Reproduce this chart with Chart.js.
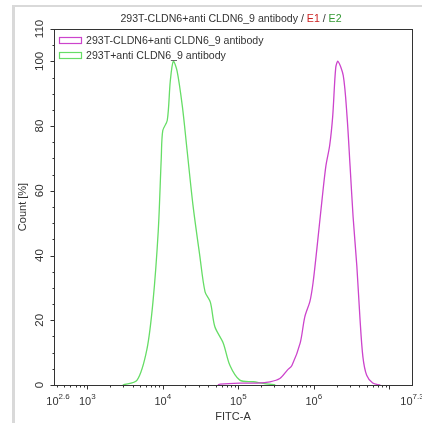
<!DOCTYPE html>
<html>
<head>
<meta charset="utf-8">
<script src="https://cdn.jsdelivr.net/npm/chart.js@4"></script>
<style>
  html, body { margin: 0; padding: 0; background: #fff; }
  #wrap { position: relative; width: 422px; height: 423px; }
</style>
</head>
<body>
<div id="wrap"><canvas id="histo"></canvas></div>
<script>
// FITC-A values are stored as log10 exponents
const seriesNames = ['293T-CLDN6+anti CLDN6_9 antibody', '293T+anti CLDN6_9 antibody'];
const seriesColors = ['#cc44cc', '#66dd66'];

const fitcLogMagenta = [4.73, 4.76, 5.02, 5.25, 5.42, 5.55, 5.65, 5.71, 5.82, 5.88, 5.95, 5.99, 6.04, 6.11, 6.16, 6.21, 6.25, 6.29, 6.32, 6.39, 6.44, 6.48, 6.52, 6.57, 6.61, 6.65, 6.70, 6.78, 6.88];
const countMagenta = [0, 0.3, 0.6, 0.6, 1, 2, 4.6, 6, 13, 21, 26, 31.6, 42, 57.5, 67.7, 74, 83, 98, 100, 95.6, 83, 67.7, 52, 36.6, 21, 8.7, 3, 0.6, 0];

const fitcLogGreen = [3.47, 3.66, 3.79, 3.87, 3.94, 3.98, 4.00, 4.06, 4.10, 4.14, 4.19, 4.26, 4.32, 4.40, 4.49, 4.56, 4.63, 4.69, 4.80, 4.89, 5.02, 5.20, 5.33, 5.49];
const countGreen = [0, 1.5, 11, 25.6, 47.5, 70, 78.6, 81.8, 94, 100, 97, 86, 73, 55.6, 40, 28.8, 25.6, 18, 13, 6, 1.5, 1, 0.5, 0];

const xTickExponents = [2.6, 3, 4, 5, 6, 7.3];
const yTickLabels = [0, 20, 40, 60, 80, 100, 110];

const xMinExp = 2.56, xMaxExp = 7.3;
const textColor = '#333';
const fontFamily = '"Liberation Sans", Arial, sans-serif';

function toPoints(exps, counts) {
    return exps.map((e, i) => ({ x: Math.pow(10, e), y: counts[i] }));
}

const decorPlugin = {
    id: 'decor',
    afterDraw: function(chart) {
        const ctx = chart.ctx;
        const a = chart.chartArea;
        const xs = chart.scales.x, ys = chart.scales.y;
        ctx.save();

        // window edges
        ctx.fillStyle = '#d9d9d9';
        ctx.fillRect(12, 5, 410, 2);
        ctx.fillRect(12, 5, 3, 418);

        // frame
        ctx.strokeStyle = '#333';
        ctx.lineWidth = 1;
        ctx.strokeRect(Math.round(a.left) + 0.5, Math.round(a.top) + 0.5, Math.round(a.right - a.left), Math.round(a.bottom - a.top));

        // title with coloured gate names
        ctx.font = '10.6px ' + fontFamily;
        ctx.textBaseline = 'middle';
        ctx.textAlign = 'left';
        const parts = [['293T-CLDN6+anti CLDN6_9 antibody / ', textColor], ['E1', '#cc2222'], [' / ', textColor], ['E2', '#339933']];
        let total = parts.reduce((s, p) => s + ctx.measureText(p[0]).width, 0);
        let tx = 231 - total / 2;
        parts.forEach(p => {
            ctx.fillStyle = p[1];
            ctx.fillText(p[0], tx, 19);
            tx += ctx.measureText(p[0]).width;
        });

        // legend inside plot
        seriesNames.forEach((name, i) => {
            const ly = 41 + i * 15;
            ctx.strokeStyle = seriesColors[i];
            ctx.lineWidth = 1.2;
            ctx.strokeRect(59.5, ly - 3.5, 22, 6);
            ctx.fillStyle = textColor;
            ctx.fillText(name, 86, ly);
        });

        // x ticks
        ctx.strokeStyle = '#333';
        ctx.lineWidth = 1;
        const yb = Math.round(a.bottom) + 0.5;
        for (let d = 2; d <= 7; d++) {
            for (let m = 1; m <= 9; m++) {
                const v = m * Math.pow(10, d);
                if (v < Math.pow(10, xMinExp) || v > Math.pow(10, xMaxExp)) continue;
                const px = Math.round(xs.getPixelForValue(v)) + 0.5;
                ctx.beginPath();
                ctx.moveTo(px, yb);
                ctx.lineTo(px, yb + (m === 1 ? 4 : 2));
                ctx.stroke();
            }
        }
        xTickExponents.forEach(e => {
            const px = e === xTickExponents[0] ? a.left + 4 : xs.getPixelForValue(Math.pow(10, e));
            const exp = String(e);
            ctx.font = '11px ' + fontFamily;
            const wb = ctx.measureText('10').width;
            ctx.font = '8px ' + fontFamily;
            const we = ctx.measureText(exp).width;
            const x0 = px - (wb + we) / 2;
            ctx.fillStyle = textColor;
            ctx.textAlign = 'left';
            ctx.font = '11px ' + fontFamily;
            ctx.fillText('10', x0, 402);
            ctx.font = '8px ' + fontFamily;
            ctx.fillText(exp, x0 + wb, 397);
        });
        ctx.font = '11px ' + fontFamily;
        ctx.textAlign = 'center';
        ctx.fillText('FITC-A', (a.left + a.right) / 2, 417);

        // y ticks
        const xl = Math.round(a.left) + 0.5;
        for (let v = 0; v <= 110; v += 5) {
            const py = Math.round(ys.getPixelForValue(v)) + 0.5;
            ctx.beginPath();
            ctx.moveTo(xl, py);
            ctx.lineTo(xl - (v % 20 === 0 || v === 110 ? 4 : 2), py);
            ctx.stroke();
        }
        ctx.font = '11.5px ' + fontFamily;
        yTickLabels.forEach(v => {
            const py = ys.getPixelForValue(v);
            ctx.save();
            ctx.translate(40, py);
            ctx.rotate(-Math.PI / 2);
            ctx.textAlign = 'center';
            ctx.fillText(String(v), 0, 0);
            ctx.restore();
        });
        ctx.font = '11px ' + fontFamily;
        ctx.save();
        ctx.translate(23, (a.top + a.bottom) / 2);
        ctx.rotate(-Math.PI / 2);
        ctx.textAlign = 'center';
        ctx.fillText('Count [%]', 0, 0);
        ctx.restore();

        ctx.restore();
    }
};

const chart = new Chart(document.getElementById('histo'), {
    type: 'line',
    data: {
        datasets: [{
            label: seriesNames[0],
            data: toPoints(fitcLogMagenta, countMagenta),
            borderColor: seriesColors[0],
            borderWidth: 1.3,
            pointRadius: 0,
            tension: 0.3,
            fill: false
        }, {
            label: seriesNames[1],
            data: toPoints(fitcLogGreen, countGreen),
            borderColor: seriesColors[1],
            borderWidth: 1.3,
            pointRadius: 0,
            tension: 0.3,
            fill: false
        }]
    },
    options: {
        responsive: true,
        maintainAspectRatio: false,
        animation: false,
        layout: { padding: { left: 54, right: 10, top: 29, bottom: 38 } },
        scales: {
            x: {
                type: 'logarithmic',
                min: Math.pow(10, xMinExp),
                max: Math.pow(10, xMaxExp),
                ticks: { display: false },
                grid: { display: false, drawTicks: false },
                border: { display: false },
                afterFit: s => { s.height = 0; }
            },
            y: {
                min: 0,
                max: 110,
                ticks: { display: false },
                grid: { display: false, drawTicks: false },
                border: { display: false },
                afterFit: s => { s.width = 0; }
            }
        },
        plugins: {
            legend: { display: false },
            title: { display: false },
            tooltip: { enabled: false }
        }
    },
    plugins: [decorPlugin]
});
</script>
</body>
</html>
